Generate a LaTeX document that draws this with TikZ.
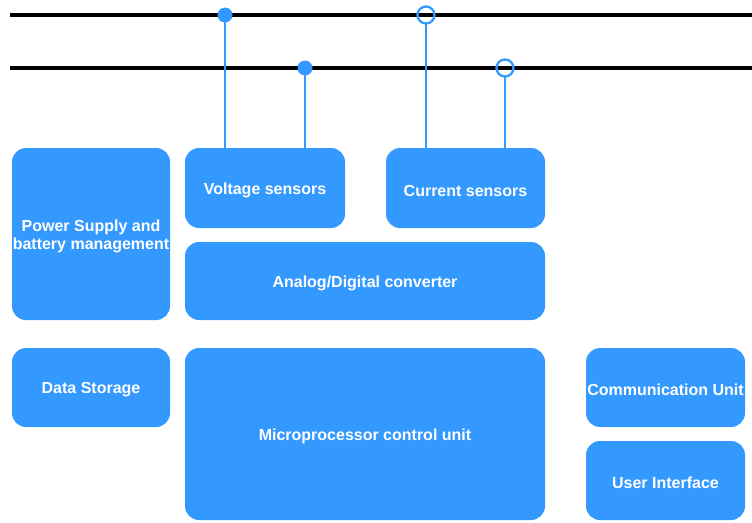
\documentclass[tikz,border=0pt]{standalone}
\usepackage{fontspec}
\setmainfont{Liberation Sans}
\definecolor{boxblue}{HTML}{3399FF}
\tikzset{
  unit/.style={draw=none, fill=boxblue, rounded corners=14pt, inner sep=0pt},
  unittext/.style={text=white, font=\fontsize{16}{18}\selectfont\bfseries,
    align=center, inner sep=0pt, yshift=-2.5pt},
  bus/.style={line width=3.4pt, black},
  tap/.style={line width=2.3pt, boxblue}
}
\newcommand{\unitbox}[6]{%
  \node[unit, minimum width=#4-#2, minimum height=#5-#3,
    label={[unittext]center:#6}] (#1) at ({(#2+#4)/2},{(#3+#5)/2}) {};}

\begin{document}
\begin{tikzpicture}[x=1pt, y=-1pt]
  \useasboundingbox (0,0) rectangle (752,522);
  % bus lines
  \coordinate (busA) at (10,15);
  \coordinate (busAend) at (752,15);
  \coordinate (busB) at (10,68);
  \coordinate (busBend) at (752,68);
  \draw[bus] (busA) -- (busAend);
  \draw[bus] (busB) -- (busBend);
  % blocks
  \unitbox{power}{12}{148}{170}{320}{Power Supply and\\battery management}
  \unitbox{volt}{185}{148}{345}{228}{Voltage sensors}
  \unitbox{curr}{386}{148}{545}{228}{Current sensors}
  \unitbox{adc}{185}{242}{545}{320}{Analog/Digital converter}
  \unitbox{store}{12}{348}{170}{427}{Data Storage}
  \unitbox{mcu}{185}{348}{545}{520}{Microprocessor control unit}
  \unitbox{comm}{586}{348}{745}{427}{Communication Unit}
  \unitbox{ui}{586}{441}{745}{520}{User Interface}
  % taps on the bus
  \coordinate (vA) at (225,15);
  \coordinate (vB) at (305,68);
  \coordinate (cA) at (426,15);
  \coordinate (cB) at (505,68);
  \draw[tap] (vA) -- (volt.north -| vA);
  \draw[tap] (vB) -- (volt.north -| vB);
  \draw[tap] ([yshift=-8pt]cA) -- (curr.north -| cA);
  \draw[tap] ([yshift=-8pt]cB) -- (curr.north -| cB);
  \fill[boxblue] (vA) circle (7.5pt);
  \fill[boxblue] (vB) circle (7.5pt);
  \draw[tap] (cA) circle (8.5pt);
  \draw[tap] (cB) circle (8.5pt);
\end{tikzpicture}
\end{document}
